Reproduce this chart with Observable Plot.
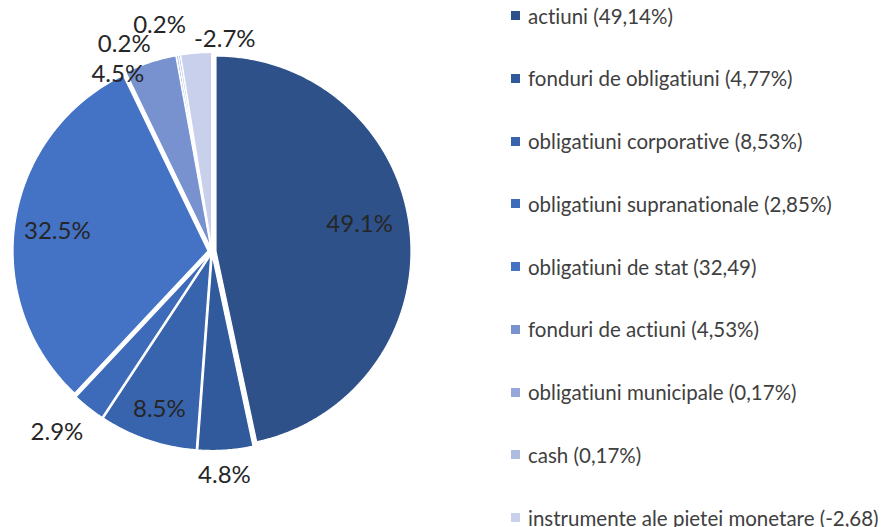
<!DOCTYPE html>
<html><head><meta charset="utf-8">
<script src="https://cdn.jsdelivr.net/npm/d3@7"></script>
<script src="https://cdn.jsdelivr.net/npm/@observablehq/plot@0.6"></script>
<style>
body{margin:0;background:#fff;}
#wrap{position:relative;width:882px;height:527px;overflow:hidden;font-family:Lato,"Open Sans",sans-serif;font-variant-ligatures:none;font-feature-settings:"liga" 0,"clig" 0;}
#legend{position:absolute;left:511px;top:0;}
.item{position:absolute;left:0;display:flex;align-items:center;white-space:nowrap;font-size:20.5px;color:#404040;height:22px;}
.sw{width:9px;height:9px;margin-right:8px;flex:none;}
</style></head>
<body><div id="wrap"></div>
<script>
// ---- data ----
const categories = ["actiuni","fonduri de obligatiuni","obligatiuni corporative","obligatiuni supranationale","obligatiuni de stat","fonduri de actiuni","obligatiuni municipale","cash","instrumente ale pietei monetare"];
const values = [49.14, 4.77, 8.53, 2.85, 32.49, 4.53, 0.17, 0.17, -2.68];
const pieLabels = ["49.1%","4.8%","8.5%","2.9%","32.5%","4.5%","0.2%","0.2%","-2.7%"];
const legendLabels = ["actiuni (49,14%)","fonduri de obligatiuni (4,77%)","obligatiuni corporative (8,53%)","obligatiuni supranationale (2,85%)","obligatiuni de stat (32,49)","fonduri de actiuni (4,53%)","obligatiuni municipale (0,17%)","cash (0,17%)","instrumente ale pietei monetare (-2,68)"];
const colors = ["#2F5189","#315A9D","#3864AD","#3D6AB9","#4472C4","#7891CF","#96A8D9","#AEBCE2","#C9D0EB"];

// ---- layout (not data) ----
const W = 882, H = 527, CX = 211.5, CY = 251, R = 195, EXPLODE = 4;
const labelRadius = [0.77, 1.148, 0.854, 1.22, 0.80, 1.03, 1.155, 1.192, 1.092];
const labelAngleShift = [-4.4, 0.7, -0.4, 2.4, -1.3, -9.9, -12.9, -3.6, 8.0];

const data = categories.map((c, i) => ({name: c, value: values[i], label: pieLabels[i]}));
const arcs = d3.pie().sort(null).value(d => Math.abs(d.value))(data);

const e = EXPLODE / R;
const slicePts = [];
const labelPts = [];
arcs.forEach((a, i) => {
  const mid = (a.startAngle + a.endAngle) / 2;
  const ox = e * Math.sin(mid), oy = e * Math.cos(mid);
  slicePts.push({name: a.data.name, x: ox, y: oy});
  const n = Math.max(2, Math.ceil((a.endAngle - a.startAngle) / (Math.PI / 360)));
  for (let k = 0; k <= n; k++) {
    const t = a.startAngle + (a.endAngle - a.startAngle) * k / n;
    slicePts.push({name: a.data.name, x: ox + Math.sin(t), y: oy + Math.cos(t)});
  }
  const la = mid + labelAngleShift[i] * Math.PI / 180;
  labelPts.push({label: a.data.label, x: labelRadius[i] * Math.sin(la), y: labelRadius[i] * Math.cos(la)});
});

const chart = Plot.plot({
  width: W, height: H,
  margin: 0,
  x: {domain: [-CX / R, (W - CX) / R], axis: null},
  y: {domain: [-(H - CY) / R, CY / R], axis: null},
  color: {domain: categories, range: colors},
  marks: [
    Plot.line(slicePts, {x: "x", y: "y", z: "name", fill: "name", stroke: "white", strokeWidth: 1.2, curve: "linear-closed"}),
    Plot.text(labelPts, {x: "x", y: "y", text: "label", fontSize: 24, fill: "#262626", fontFamily: "Lato, 'Open Sans', sans-serif"})
  ]
});
chart.style.position = "absolute";
chart.style.left = "0"; chart.style.top = "0";
const wrap = document.getElementById("wrap");
wrap.appendChild(chart);

const legend = document.createElement("div");
legend.id = "legend";
legendLabels.forEach((t, i) => {
  const it = document.createElement("div");
  it.className = "item";
  it.style.top = (15.5 + 62.75 * i - 11) + "px";
  const sw = document.createElement("span");
  sw.className = "sw"; sw.style.background = colors[i];
  const tx = document.createElement("span");
  tx.textContent = t;
  it.appendChild(sw); it.appendChild(tx);
  legend.appendChild(it);
});
wrap.appendChild(legend);
</script>
</body></html>
